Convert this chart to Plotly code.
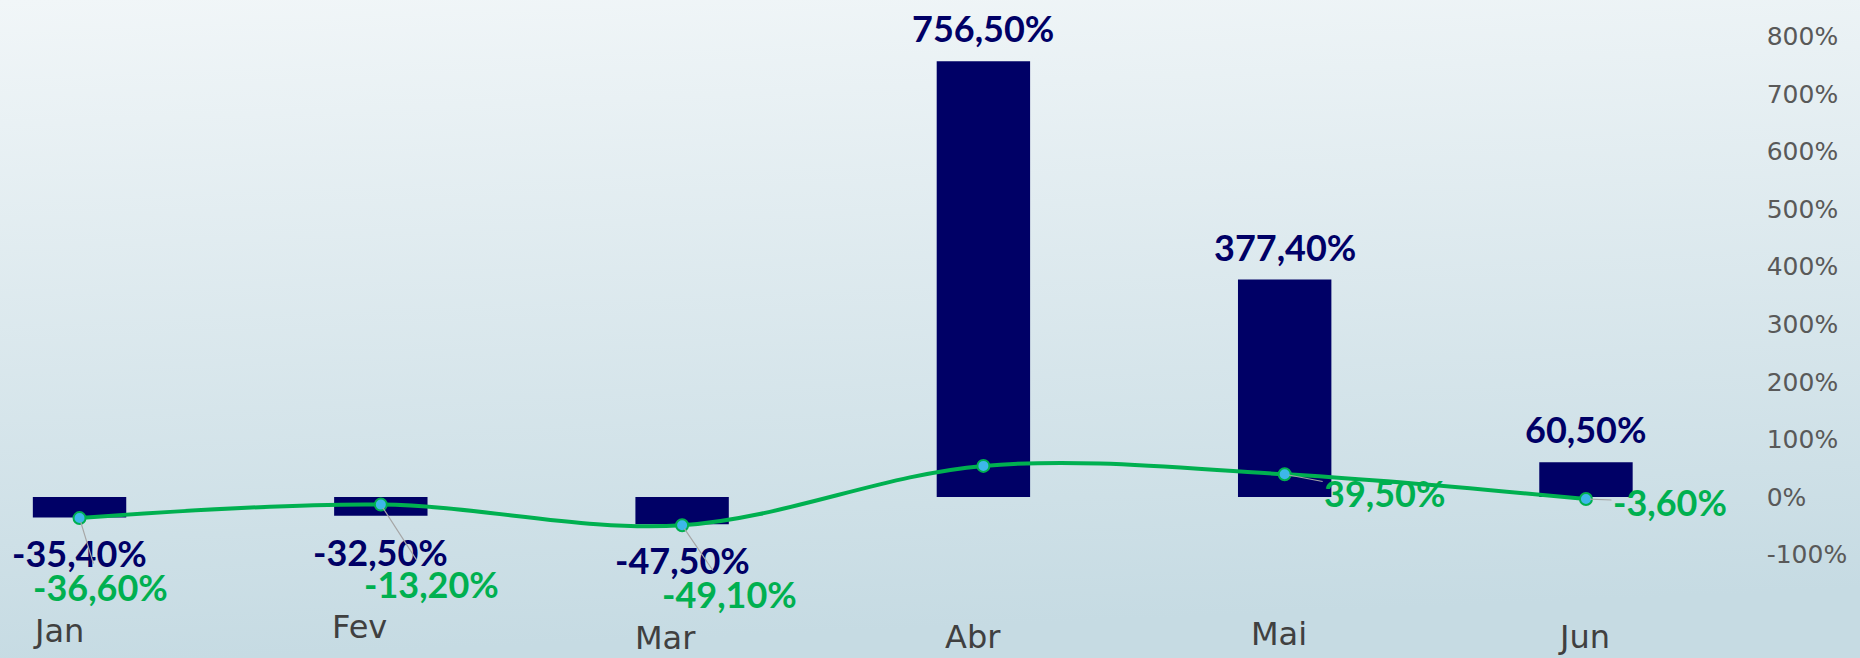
import base64
import plotly.graph_objects as go

categories = ["Jan", "Fev", "Mar", "Abr", "Mai", "Jun"]
bar_values = [-35.4, -32.5, -47.5, 756.5, 377.4, 60.5]
line_values = [-36.6, -13.2, -49.1, 54.0, 39.5, -3.6]
line_label_shown = [True, True, True, False, True, True]
y_ticks = [-100, 0, 100, 200, 300, 400, 500, 600, 700, 800]


def fmt(v):
    return f"{v:.2f}".replace(".", ",") + "%"


NAVY = "#000066"
GREEN = "#00B050"

fig = go.Figure()
fig.add_trace(go.Bar(
    x=categories, y=bar_values, marker=dict(color=NAVY, line=dict(width=0)),
    hoverinfo="skip", showlegend=False,
))
fig.add_trace(go.Scatter(
    x=categories, y=line_values, mode="lines+markers",
    line=dict(color=GREEN, width=4, shape="spline", smoothing=1.0),
    marker=dict(size=12, color="#3DB7E9", line=dict(color=GREEN, width=2)),
    hoverinfo="skip", showlegend=False,
))

annotations = []
# bar value labels
for c, v in zip(categories, bar_values):
    annotations.append(dict(
        x=c, y=v, xref="x", yref="y", text=fmt(v), showarrow=False,
        yshift=33 if v >= 0 else -36, yanchor="middle",
        font=dict(family="Lato", size=36, color=NAVY, weight="bold"),
    ))
# line value labels with leader lines
line_offsets = [(21, 69), (51, 79), (47, 69), (0, 0), (100, 19), (84, 3)]
for c, v, shown, (ox, oy) in zip(categories, line_values, line_label_shown, line_offsets):
    if not shown:
        continue
    annotations.append(dict(
        x=c, y=v, xref="x", yref="y", text=fmt(v), showarrow=True,
        ax=ox, ay=oy, axref="pixel", ayref="pixel",
        arrowhead=0, arrowwidth=1.2, arrowcolor="#A6A6A6", standoff=4,
        font=dict(family="Lato", size=36, color=GREEN, weight="bold"),
    ))
# category labels (staggered as in the reference)
cat_pixel_y = [631, 627, 638, 637, 634, 637]
cat_shift_x = [-21, -21, -17, -10, -6, -2]
for c, py, sx in zip(categories, cat_pixel_y, cat_shift_x):
    annotations.append(dict(
        x=c, y=1 - py / 658, xref="x", yref="paper", text=c, showarrow=False,
        xshift=sx, yanchor="middle",
        font=dict(family="DejaVu Sans", size=32, color="#404040"),
    ))

svg = (
    '<svg xmlns="http://www.w3.org/2000/svg" width="1860" height="658" preserveAspectRatio="none">'
    '<defs><linearGradient id="g" x1="0" y1="0" x2="0.12" y2="1">'
    '<stop offset="0" stop-color="#F1F6F8"/><stop offset="1" stop-color="#C6DBE3"/>'
    '</linearGradient></defs><rect width="1860" height="658" fill="url(#g)"/></svg>'
)
src = "data:image/svg+xml;base64," + base64.b64encode(svg.encode()).decode()

fig.update_layout(
    width=1860, height=658,
    margin=dict(l=0, r=0, t=0, b=0),
    paper_bgcolor="#DCE9ED", plot_bgcolor="rgba(0,0,0,0)",
    bargap=0.69,
    images=[dict(source=src, xref="paper", yref="paper", x=0, y=1, sizex=1, sizey=1,
                 xanchor="left", yanchor="top", sizing="stretch", layer="below")],
    annotations=annotations,
    xaxis=dict(domain=[0, 0.945], range=[-0.264, 5.570], showticklabels=False,
               showgrid=False, zeroline=False, showline=False, fixedrange=True),
    yaxis=dict(side="right", range=[-279.5, 862.8], tickvals=y_ticks,
               ticktext=[f"{t}%" for t in y_ticks], showgrid=False, zeroline=False,
               showline=False, ticks="", ticklabelstandoff=8,
               tickfont=dict(family="DejaVu Sans", size=25, color="#595959")),
)

fig.write_html(
    "out.html",
    config={"displayModeBar": False},
    post_script="document.body.style.margin='0';document.body.style.overflow='hidden';",
)
